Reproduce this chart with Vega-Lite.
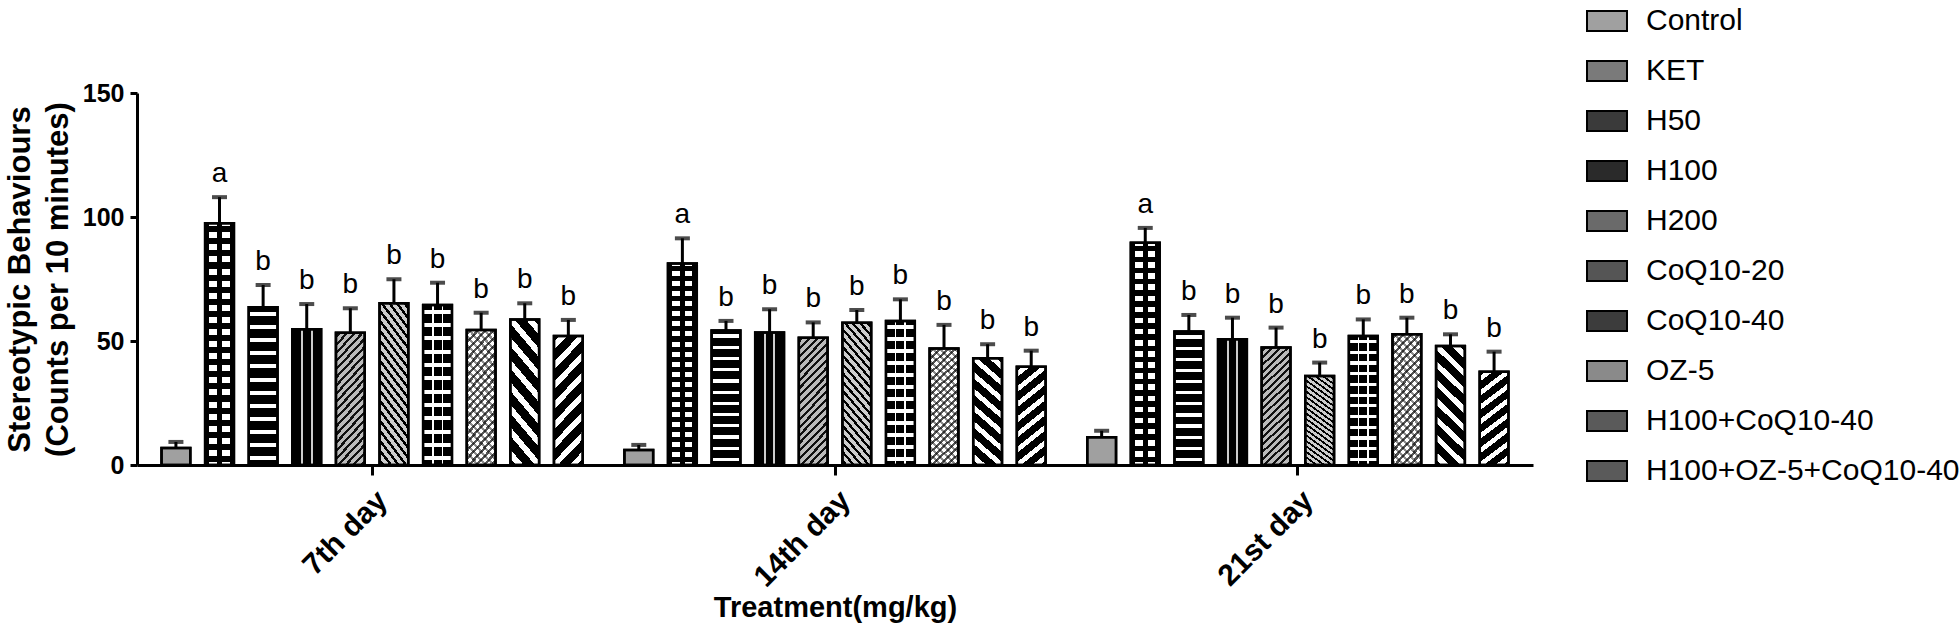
{
  "$schema": "https://vega.github.io/schema/vega-lite/v6.json",
  "width": 1396,
  "height": 372,
  "padding": {"left": 4, "top": 0, "right": 0, "bottom": 0},
  "autosize": {"type": "pad"},
  "config": {
    "font": "Liberation Sans",
    "view": {"stroke": null},
    "axis": {"domainColor": "#000", "domainWidth": 3, "tickColor": "#000", "tickWidth": 3, "labelColor": "#000", "titleColor": "#000", "grid": false}
  },
  "data": {
    "values": [
      {"day": "7th day", "treatment": "Control", "mean": 6.9, "upper": 9.3, "sig": ""},
      {"day": "7th day", "treatment": "KET", "mean": 97.5, "upper": 108, "sig": "a"},
      {"day": "7th day", "treatment": "H50", "mean": 63.6, "upper": 72.6, "sig": "b"},
      {"day": "7th day", "treatment": "H100", "mean": 54.7, "upper": 64.9, "sig": "b"},
      {"day": "7th day", "treatment": "H200", "mean": 53.3, "upper": 63.2, "sig": "b"},
      {"day": "7th day", "treatment": "CoQ10-20", "mean": 65.2, "upper": 74.9, "sig": "b"},
      {"day": "7th day", "treatment": "CoQ10-40", "mean": 64.5, "upper": 73.5, "sig": "b"},
      {"day": "7th day", "treatment": "OZ-5", "mean": 54.4, "upper": 61.4, "sig": "b"},
      {"day": "7th day", "treatment": "H100+CoQ10-40", "mean": 58.7, "upper": 65.2, "sig": "b"},
      {"day": "7th day", "treatment": "H100+OZ-5+CoQ10-40", "mean": 52.0, "upper": 58.5, "sig": "b"},
      {"day": "14th day", "treatment": "Control", "mean": 6.0, "upper": 8.1, "sig": ""},
      {"day": "14th day", "treatment": "KET", "mean": 81.3, "upper": 91.4, "sig": "a"},
      {"day": "14th day", "treatment": "H50", "mean": 54.2, "upper": 58.1, "sig": "b"},
      {"day": "14th day", "treatment": "H100", "mean": 53.4, "upper": 62.8, "sig": "b"},
      {"day": "14th day", "treatment": "H200", "mean": 51.3, "upper": 57.5, "sig": "b"},
      {"day": "14th day", "treatment": "CoQ10-20", "mean": 57.4, "upper": 62.5, "sig": "b"},
      {"day": "14th day", "treatment": "CoQ10-40", "mean": 58.1, "upper": 66.8, "sig": "b"},
      {"day": "14th day", "treatment": "OZ-5", "mean": 47.0, "upper": 56.5, "sig": "b"},
      {"day": "14th day", "treatment": "H100+CoQ10-40", "mean": 43.0, "upper": 48.7, "sig": "b"},
      {"day": "14th day", "treatment": "H100+OZ-5+CoQ10-40", "mean": 39.6, "upper": 46.1, "sig": "b"},
      {"day": "21st day", "treatment": "Control", "mean": 11.2, "upper": 13.8, "sig": ""},
      {"day": "21st day", "treatment": "KET", "mean": 89.6, "upper": 95.6, "sig": "a"},
      {"day": "21st day", "treatment": "H50", "mean": 53.8, "upper": 60.5, "sig": "b"},
      {"day": "21st day", "treatment": "H100", "mean": 50.7, "upper": 59.4, "sig": "b"},
      {"day": "21st day", "treatment": "H200", "mean": 47.4, "upper": 55.4, "sig": "b"},
      {"day": "21st day", "treatment": "CoQ10-20", "mean": 35.9, "upper": 41.3, "sig": "b"},
      {"day": "21st day", "treatment": "CoQ10-40", "mean": 52.0, "upper": 58.7, "sig": "b"},
      {"day": "21st day", "treatment": "OZ-5", "mean": 52.7, "upper": 59.4, "sig": "b"},
      {"day": "21st day", "treatment": "H100+CoQ10-40", "mean": 48.0, "upper": 52.7, "sig": "b"},
      {"day": "21st day", "treatment": "H100+OZ-5+CoQ10-40", "mean": 37.6, "upper": 45.7, "sig": "b"}
    ]
  },
  "encoding": {
    "x": {
      "field": "day", "type": "nominal", "sort": ["7th day", "14th day", "21st day"],
      "scale": {"paddingInner": 0.09, "paddingOuter": 0.053},
      "axis": {"title": "Treatment(mg/kg)", "labelAngle": -45, "labelFontSize": 30, "labelFontWeight": "bold", "tickSize": 10, "labelPadding": 10, "titleFontSize": 29, "titleFontWeight": "bold", "titlePadding": 1}
    },
    "xOffset": {
      "field": "treatment", "type": "nominal",
      "sort": ["Control", "KET", "H50", "H100", "H200", "CoQ10-20", "CoQ10-40", "OZ-5", "H100+CoQ10-40", "H100+OZ-5+CoQ10-40"],
      "scale": {"paddingInner": 0.34, "paddingOuter": 0}
    }
  },
  "layer": [
    {
      "mark": {"type": "bar", "stroke": "#000", "strokeWidth": 2.5},
      "encoding": {
        "y": {
          "field": "mean", "type": "quantitative",
          "scale": {"domain": [0, 150], "nice": false},
          "axis": {"values": [0, 50, 100, 150], "title": ["Stereotypic Behaviours", "(Counts per 10 minutes)"], "labelFontSize": 25, "labelFontWeight": "bold", "tickSize": 7, "labelPadding": 6, "titleFontSize": 31, "titleFontWeight": "bold", "titleLineHeight": 38, "titlePadding": 8}
        },
        "fill": {
          "field": "treatment", "type": "nominal",
          "scale": {
            "domain": ["Control", "KET", "H50", "H100", "H200", "CoQ10-20", "CoQ10-40", "OZ-5", "H100+CoQ10-40", "H100+OZ-5+CoQ10-40"],
            "range": ["#a0a0a0", "#7a7a7a", "#3a3a3a", "#2a2a2a", "#6a6a6a", "#555555", "#3c3c3c", "#8a8a8a", "#5a5a5a", "#5a5a5a"]
          },
          "legend": {
            "title": null, "orient": "none", "legendX": 1449, "legendY": -93,
            "symbolType": "M-1,-0.5H1V0.5H-1Z", "symbolSize": 1600, "symbolStrokeColor": "#000", "symbolStrokeWidth": 2,
            "labelFontSize": 30, "labelFont": "Liberation Sans", "labelColor": "#000", "labelOffset": 18, "rowPadding": 14, "labelLimit": 0
          },
          "condition": [
            {"test": "datum.treatment==='KET'", "value": {"gradient": "linear", "x1": 0, "y1": 0, "x2": 1, "y2": 0, "stops": [{"offset": 0.15, "color": "#000"}, {"offset": 0.15, "color": "#fff"}, {"offset": 0.42, "color": "#fff"}, {"offset": 0.42, "color": "#000"}, {"offset": 0.58, "color": "#000"}, {"offset": 0.58, "color": "#fff"}, {"offset": 0.85, "color": "#fff"}, {"offset": 0.85, "color": "#000"}]}},
            {"test": "datum.treatment==='H50'", "value": {"gradient": "linear", "x1": 0, "y1": 0, "x2": 0, "y2": 1, "stops": [{"offset": 0.029, "color": "#000"}, {"offset": 0.029, "color": "#fff"}, {"offset": 0.054, "color": "#fff"}, {"offset": 0.054, "color": "#000"}, {"offset": 0.1125, "color": "#000"}, {"offset": 0.1125, "color": "#fff"}, {"offset": 0.1375, "color": "#fff"}, {"offset": 0.1375, "color": "#000"}, {"offset": 0.196, "color": "#000"}, {"offset": 0.196, "color": "#fff"}, {"offset": 0.221, "color": "#fff"}, {"offset": 0.221, "color": "#000"}, {"offset": 0.279, "color": "#000"}, {"offset": 0.279, "color": "#fff"}, {"offset": 0.304, "color": "#fff"}, {"offset": 0.304, "color": "#000"}, {"offset": 0.3625, "color": "#000"}, {"offset": 0.3625, "color": "#fff"}, {"offset": 0.3875, "color": "#fff"}, {"offset": 0.3875, "color": "#000"}, {"offset": 0.446, "color": "#000"}, {"offset": 0.446, "color": "#fff"}, {"offset": 0.471, "color": "#fff"}, {"offset": 0.471, "color": "#000"}, {"offset": 0.529, "color": "#000"}, {"offset": 0.529, "color": "#fff"}, {"offset": 0.554, "color": "#fff"}, {"offset": 0.554, "color": "#000"}, {"offset": 0.6125, "color": "#000"}, {"offset": 0.6125, "color": "#fff"}, {"offset": 0.6375, "color": "#fff"}, {"offset": 0.6375, "color": "#000"}, {"offset": 0.696, "color": "#000"}, {"offset": 0.696, "color": "#fff"}, {"offset": 0.721, "color": "#fff"}, {"offset": 0.721, "color": "#000"}, {"offset": 0.779, "color": "#000"}, {"offset": 0.779, "color": "#fff"}, {"offset": 0.804, "color": "#fff"}, {"offset": 0.804, "color": "#000"}, {"offset": 0.8625, "color": "#000"}, {"offset": 0.8625, "color": "#fff"}, {"offset": 0.8875, "color": "#fff"}, {"offset": 0.8875, "color": "#000"}, {"offset": 0.946, "color": "#000"}, {"offset": 0.946, "color": "#fff"}, {"offset": 0.971, "color": "#fff"}, {"offset": 0.971, "color": "#000"}]}},
            {"test": "datum.treatment==='H100'", "value": {"gradient": "linear", "x1": 0, "y1": 0, "x2": 1, "y2": 0, "stops": [{"offset": 0.295, "color": "#000"}, {"offset": 0.295, "color": "#ccc"}, {"offset": 0.365, "color": "#ccc"}, {"offset": 0.365, "color": "#000"}, {"offset": 0.635, "color": "#000"}, {"offset": 0.635, "color": "#ccc"}, {"offset": 0.705, "color": "#ccc"}, {"offset": 0.705, "color": "#000"}]}},
            {"test": "datum.treatment==='H200'", "value": {"gradient": "linear", "x1": 0, "y1": 0, "x2": 0.274, "y2": 1.17, "stops": [{"offset": 0.015, "color": "#bbb"}, {"offset": 0.015, "color": "#111"}, {"offset": 0.035, "color": "#111"}, {"offset": 0.035, "color": "#bbb"}, {"offset": 0.065, "color": "#bbb"}, {"offset": 0.065, "color": "#111"}, {"offset": 0.085, "color": "#111"}, {"offset": 0.085, "color": "#bbb"}, {"offset": 0.115, "color": "#bbb"}, {"offset": 0.115, "color": "#111"}, {"offset": 0.135, "color": "#111"}, {"offset": 0.135, "color": "#bbb"}, {"offset": 0.165, "color": "#bbb"}, {"offset": 0.165, "color": "#111"}, {"offset": 0.185, "color": "#111"}, {"offset": 0.185, "color": "#bbb"}, {"offset": 0.215, "color": "#bbb"}, {"offset": 0.215, "color": "#111"}, {"offset": 0.235, "color": "#111"}, {"offset": 0.235, "color": "#bbb"}, {"offset": 0.265, "color": "#bbb"}, {"offset": 0.265, "color": "#111"}, {"offset": 0.285, "color": "#111"}, {"offset": 0.285, "color": "#bbb"}, {"offset": 0.315, "color": "#bbb"}, {"offset": 0.315, "color": "#111"}, {"offset": 0.335, "color": "#111"}, {"offset": 0.335, "color": "#bbb"}, {"offset": 0.365, "color": "#bbb"}, {"offset": 0.365, "color": "#111"}, {"offset": 0.385, "color": "#111"}, {"offset": 0.385, "color": "#bbb"}, {"offset": 0.415, "color": "#bbb"}, {"offset": 0.415, "color": "#111"}, {"offset": 0.435, "color": "#111"}, {"offset": 0.435, "color": "#bbb"}, {"offset": 0.465, "color": "#bbb"}, {"offset": 0.465, "color": "#111"}, {"offset": 0.485, "color": "#111"}, {"offset": 0.485, "color": "#bbb"}, {"offset": 0.515, "color": "#bbb"}, {"offset": 0.515, "color": "#111"}, {"offset": 0.535, "color": "#111"}, {"offset": 0.535, "color": "#bbb"}, {"offset": 0.565, "color": "#bbb"}, {"offset": 0.565, "color": "#111"}, {"offset": 0.585, "color": "#111"}, {"offset": 0.585, "color": "#bbb"}, {"offset": 0.615, "color": "#bbb"}, {"offset": 0.615, "color": "#111"}, {"offset": 0.635, "color": "#111"}, {"offset": 0.635, "color": "#bbb"}, {"offset": 0.665, "color": "#bbb"}, {"offset": 0.665, "color": "#111"}, {"offset": 0.685, "color": "#111"}, {"offset": 0.685, "color": "#bbb"}, {"offset": 0.715, "color": "#bbb"}, {"offset": 0.715, "color": "#111"}, {"offset": 0.735, "color": "#111"}, {"offset": 0.735, "color": "#bbb"}, {"offset": 0.765, "color": "#bbb"}, {"offset": 0.765, "color": "#111"}, {"offset": 0.785, "color": "#111"}, {"offset": 0.785, "color": "#bbb"}, {"offset": 0.815, "color": "#bbb"}, {"offset": 0.815, "color": "#111"}, {"offset": 0.835, "color": "#111"}, {"offset": 0.835, "color": "#bbb"}, {"offset": 0.865, "color": "#bbb"}, {"offset": 0.865, "color": "#111"}, {"offset": 0.885, "color": "#111"}, {"offset": 0.885, "color": "#bbb"}, {"offset": 0.915, "color": "#bbb"}, {"offset": 0.915, "color": "#111"}, {"offset": 0.935, "color": "#111"}, {"offset": 0.935, "color": "#bbb"}, {"offset": 0.965, "color": "#bbb"}, {"offset": 0.965, "color": "#111"}, {"offset": 0.985, "color": "#111"}, {"offset": 0.985, "color": "#bbb"}]}},
            {"test": "datum.treatment==='CoQ10-20'", "value": {"gradient": "linear", "x1": 1, "y1": 0, "x2": 0.726, "y2": 1.17, "stops": [{"offset": 0.015, "color": "#ccc"}, {"offset": 0.015, "color": "#000"}, {"offset": 0.035, "color": "#000"}, {"offset": 0.035, "color": "#ccc"}, {"offset": 0.065, "color": "#ccc"}, {"offset": 0.065, "color": "#000"}, {"offset": 0.085, "color": "#000"}, {"offset": 0.085, "color": "#ccc"}, {"offset": 0.115, "color": "#ccc"}, {"offset": 0.115, "color": "#000"}, {"offset": 0.135, "color": "#000"}, {"offset": 0.135, "color": "#ccc"}, {"offset": 0.165, "color": "#ccc"}, {"offset": 0.165, "color": "#000"}, {"offset": 0.185, "color": "#000"}, {"offset": 0.185, "color": "#ccc"}, {"offset": 0.215, "color": "#ccc"}, {"offset": 0.215, "color": "#000"}, {"offset": 0.235, "color": "#000"}, {"offset": 0.235, "color": "#ccc"}, {"offset": 0.265, "color": "#ccc"}, {"offset": 0.265, "color": "#000"}, {"offset": 0.285, "color": "#000"}, {"offset": 0.285, "color": "#ccc"}, {"offset": 0.315, "color": "#ccc"}, {"offset": 0.315, "color": "#000"}, {"offset": 0.335, "color": "#000"}, {"offset": 0.335, "color": "#ccc"}, {"offset": 0.365, "color": "#ccc"}, {"offset": 0.365, "color": "#000"}, {"offset": 0.385, "color": "#000"}, {"offset": 0.385, "color": "#ccc"}, {"offset": 0.415, "color": "#ccc"}, {"offset": 0.415, "color": "#000"}, {"offset": 0.435, "color": "#000"}, {"offset": 0.435, "color": "#ccc"}, {"offset": 0.465, "color": "#ccc"}, {"offset": 0.465, "color": "#000"}, {"offset": 0.485, "color": "#000"}, {"offset": 0.485, "color": "#ccc"}, {"offset": 0.515, "color": "#ccc"}, {"offset": 0.515, "color": "#000"}, {"offset": 0.535, "color": "#000"}, {"offset": 0.535, "color": "#ccc"}, {"offset": 0.565, "color": "#ccc"}, {"offset": 0.565, "color": "#000"}, {"offset": 0.585, "color": "#000"}, {"offset": 0.585, "color": "#ccc"}, {"offset": 0.615, "color": "#ccc"}, {"offset": 0.615, "color": "#000"}, {"offset": 0.635, "color": "#000"}, {"offset": 0.635, "color": "#ccc"}, {"offset": 0.665, "color": "#ccc"}, {"offset": 0.665, "color": "#000"}, {"offset": 0.685, "color": "#000"}, {"offset": 0.685, "color": "#ccc"}, {"offset": 0.715, "color": "#ccc"}, {"offset": 0.715, "color": "#000"}, {"offset": 0.735, "color": "#000"}, {"offset": 0.735, "color": "#ccc"}, {"offset": 0.765, "color": "#ccc"}, {"offset": 0.765, "color": "#000"}, {"offset": 0.785, "color": "#000"}, {"offset": 0.785, "color": "#ccc"}, {"offset": 0.815, "color": "#ccc"}, {"offset": 0.815, "color": "#000"}, {"offset": 0.835, "color": "#000"}, {"offset": 0.835, "color": "#ccc"}, {"offset": 0.865, "color": "#ccc"}, {"offset": 0.865, "color": "#000"}, {"offset": 0.885, "color": "#000"}, {"offset": 0.885, "color": "#ccc"}, {"offset": 0.915, "color": "#ccc"}, {"offset": 0.915, "color": "#000"}, {"offset": 0.935, "color": "#000"}, {"offset": 0.935, "color": "#ccc"}, {"offset": 0.965, "color": "#ccc"}, {"offset": 0.965, "color": "#000"}, {"offset": 0.985, "color": "#000"}, {"offset": 0.985, "color": "#ccc"}]}},
            {"test": "datum.treatment==='CoQ10-40'", "value": {"gradient": "linear", "x1": 0, "y1": 0, "x2": 1, "y2": 0, "stops": [{"offset": 0.3, "color": "#000"}, {"offset": 0.3, "color": "#fff"}, {"offset": 0.36, "color": "#fff"}, {"offset": 0.36, "color": "#000"}, {"offset": 0.64, "color": "#000"}, {"offset": 0.64, "color": "#fff"}, {"offset": 0.7, "color": "#fff"}, {"offset": 0.7, "color": "#000"}]}},
            {"test": "datum.treatment==='OZ-5'", "value": {"gradient": "linear", "x1": 0, "y1": 0, "x2": 0.274, "y2": 1.17, "stops": [{"offset": 0.015, "color": "#fff"}, {"offset": 0.015, "color": "#555"}, {"offset": 0.035, "color": "#555"}, {"offset": 0.035, "color": "#fff"}, {"offset": 0.065, "color": "#fff"}, {"offset": 0.065, "color": "#555"}, {"offset": 0.085, "color": "#555"}, {"offset": 0.085, "color": "#fff"}, {"offset": 0.115, "color": "#fff"}, {"offset": 0.115, "color": "#555"}, {"offset": 0.135, "color": "#555"}, {"offset": 0.135, "color": "#fff"}, {"offset": 0.165, "color": "#fff"}, {"offset": 0.165, "color": "#555"}, {"offset": 0.185, "color": "#555"}, {"offset": 0.185, "color": "#fff"}, {"offset": 0.215, "color": "#fff"}, {"offset": 0.215, "color": "#555"}, {"offset": 0.235, "color": "#555"}, {"offset": 0.235, "color": "#fff"}, {"offset": 0.265, "color": "#fff"}, {"offset": 0.265, "color": "#555"}, {"offset": 0.285, "color": "#555"}, {"offset": 0.285, "color": "#fff"}, {"offset": 0.315, "color": "#fff"}, {"offset": 0.315, "color": "#555"}, {"offset": 0.335, "color": "#555"}, {"offset": 0.335, "color": "#fff"}, {"offset": 0.365, "color": "#fff"}, {"offset": 0.365, "color": "#555"}, {"offset": 0.385, "color": "#555"}, {"offset": 0.385, "color": "#fff"}, {"offset": 0.415, "color": "#fff"}, {"offset": 0.415, "color": "#555"}, {"offset": 0.435, "color": "#555"}, {"offset": 0.435, "color": "#fff"}, {"offset": 0.465, "color": "#fff"}, {"offset": 0.465, "color": "#555"}, {"offset": 0.485, "color": "#555"}, {"offset": 0.485, "color": "#fff"}, {"offset": 0.515, "color": "#fff"}, {"offset": 0.515, "color": "#555"}, {"offset": 0.535, "color": "#555"}, {"offset": 0.535, "color": "#fff"}, {"offset": 0.565, "color": "#fff"}, {"offset": 0.565, "color": "#555"}, {"offset": 0.585, "color": "#555"}, {"offset": 0.585, "color": "#fff"}, {"offset": 0.615, "color": "#fff"}, {"offset": 0.615, "color": "#555"}, {"offset": 0.635, "color": "#555"}, {"offset": 0.635, "color": "#fff"}, {"offset": 0.665, "color": "#fff"}, {"offset": 0.665, "color": "#555"}, {"offset": 0.685, "color": "#555"}, {"offset": 0.685, "color": "#fff"}, {"offset": 0.715, "color": "#fff"}, {"offset": 0.715, "color": "#555"}, {"offset": 0.735, "color": "#555"}, {"offset": 0.735, "color": "#fff"}, {"offset": 0.765, "color": "#fff"}, {"offset": 0.765, "color": "#555"}, {"offset": 0.785, "color": "#555"}, {"offset": 0.785, "color": "#fff"}, {"offset": 0.815, "color": "#fff"}, {"offset": 0.815, "color": "#555"}, {"offset": 0.835, "color": "#555"}, {"offset": 0.835, "color": "#fff"}, {"offset": 0.865, "color": "#fff"}, {"offset": 0.865, "color": "#555"}, {"offset": 0.885, "color": "#555"}, {"offset": 0.885, "color": "#fff"}, {"offset": 0.915, "color": "#fff"}, {"offset": 0.915, "color": "#555"}, {"offset": 0.935, "color": "#555"}, {"offset": 0.935, "color": "#fff"}, {"offset": 0.965, "color": "#fff"}, {"offset": 0.965, "color": "#555"}, {"offset": 0.985, "color": "#555"}, {"offset": 0.985, "color": "#fff"}]}},
            {"test": "datum.treatment==='H100+CoQ10-40'", "value": {"gradient": "linear", "x1": 1, "y1": 0, "x2": 0.726, "y2": 1.17, "stops": [{"offset": 0.0375, "color": "#000"}, {"offset": 0.0375, "color": "#fff"}, {"offset": 0.0875, "color": "#fff"}, {"offset": 0.0875, "color": "#000"}, {"offset": 0.1625, "color": "#000"}, {"offset": 0.1625, "color": "#fff"}, {"offset": 0.2125, "color": "#fff"}, {"offset": 0.2125, "color": "#000"}, {"offset": 0.2875, "color": "#000"}, {"offset": 0.2875, "color": "#fff"}, {"offset": 0.3375, "color": "#fff"}, {"offset": 0.3375, "color": "#000"}, {"offset": 0.4125, "color": "#000"}, {"offset": 0.4125, "color": "#fff"}, {"offset": 0.4625, "color": "#fff"}, {"offset": 0.4625, "color": "#000"}, {"offset": 0.5375, "color": "#000"}, {"offset": 0.5375, "color": "#fff"}, {"offset": 0.5875, "color": "#fff"}, {"offset": 0.5875, "color": "#000"}, {"offset": 0.6625, "color": "#000"}, {"offset": 0.6625, "color": "#fff"}, {"offset": 0.7125, "color": "#fff"}, {"offset": 0.7125, "color": "#000"}, {"offset": 0.7875, "color": "#000"}, {"offset": 0.7875, "color": "#fff"}, {"offset": 0.8375, "color": "#fff"}, {"offset": 0.8375, "color": "#000"}, {"offset": 0.9125, "color": "#000"}, {"offset": 0.9125, "color": "#fff"}, {"offset": 0.9625, "color": "#fff"}, {"offset": 0.9625, "color": "#000"}]}},
            {"test": "datum.treatment==='H100+OZ-5+CoQ10-40'", "value": {"gradient": "linear", "x1": 0, "y1": 0, "x2": 0.274, "y2": 1.17, "stops": [{"offset": 0.0375, "color": "#000"}, {"offset": 0.0375, "color": "#fff"}, {"offset": 0.0875, "color": "#fff"}, {"offset": 0.0875, "color": "#000"}, {"offset": 0.1625, "color": "#000"}, {"offset": 0.1625, "color": "#fff"}, {"offset": 0.2125, "color": "#fff"}, {"offset": 0.2125, "color": "#000"}, {"offset": 0.2875, "color": "#000"}, {"offset": 0.2875, "color": "#fff"}, {"offset": 0.3375, "color": "#fff"}, {"offset": 0.3375, "color": "#000"}, {"offset": 0.4125, "color": "#000"}, {"offset": 0.4125, "color": "#fff"}, {"offset": 0.4625, "color": "#fff"}, {"offset": 0.4625, "color": "#000"}, {"offset": 0.5375, "color": "#000"}, {"offset": 0.5375, "color": "#fff"}, {"offset": 0.5875, "color": "#fff"}, {"offset": 0.5875, "color": "#000"}, {"offset": 0.6625, "color": "#000"}, {"offset": 0.6625, "color": "#fff"}, {"offset": 0.7125, "color": "#fff"}, {"offset": 0.7125, "color": "#000"}, {"offset": 0.7875, "color": "#000"}, {"offset": 0.7875, "color": "#fff"}, {"offset": 0.8375, "color": "#fff"}, {"offset": 0.8375, "color": "#000"}, {"offset": 0.9125, "color": "#000"}, {"offset": 0.9125, "color": "#fff"}, {"offset": 0.9625, "color": "#fff"}, {"offset": 0.9625, "color": "#000"}]}}
          ]
        }
      }
    },
    {
      "mark": {"type": "bar", "stroke": "#000", "strokeWidth": 2.5},
      "encoding": {
        "y": {"field": "mean", "type": "quantitative"},
        "fill": {
          "condition": [
            {"test": "datum.treatment==='KET'", "value": {"gradient": "linear", "x1": 0, "y1": 0, "x2": 0, "y2": 1, "stops": [{"offset": 0.0125, "color": "rgba(0,0,0,0)"}, {"offset": 0.0125, "color": "#000"}, {"offset": 0.0375, "color": "#000"}, {"offset": 0.0375, "color": "rgba(0,0,0,0)"}, {"offset": 0.0625, "color": "rgba(0,0,0,0)"}, {"offset": 0.0625, "color": "#000"}, {"offset": 0.0875, "color": "#000"}, {"offset": 0.0875, "color": "rgba(0,0,0,0)"}, {"offset": 0.1125, "color": "rgba(0,0,0,0)"}, {"offset": 0.1125, "color": "#000"}, {"offset": 0.1375, "color": "#000"}, {"offset": 0.1375, "color": "rgba(0,0,0,0)"}, {"offset": 0.1625, "color": "rgba(0,0,0,0)"}, {"offset": 0.1625, "color": "#000"}, {"offset": 0.1875, "color": "#000"}, {"offset": 0.1875, "color": "rgba(0,0,0,0)"}, {"offset": 0.2125, "color": "rgba(0,0,0,0)"}, {"offset": 0.2125, "color": "#000"}, {"offset": 0.2375, "color": "#000"}, {"offset": 0.2375, "color": "rgba(0,0,0,0)"}, {"offset": 0.2625, "color": "rgba(0,0,0,0)"}, {"offset": 0.2625, "color": "#000"}, {"offset": 0.2875, "color": "#000"}, {"offset": 0.2875, "color": "rgba(0,0,0,0)"}, {"offset": 0.3125, "color": "rgba(0,0,0,0)"}, {"offset": 0.3125, "color": "#000"}, {"offset": 0.3375, "color": "#000"}, {"offset": 0.3375, "color": "rgba(0,0,0,0)"}, {"offset": 0.3625, "color": "rgba(0,0,0,0)"}, {"offset": 0.3625, "color": "#000"}, {"offset": 0.3875, "color": "#000"}, {"offset": 0.3875, "color": "rgba(0,0,0,0)"}, {"offset": 0.4125, "color": "rgba(0,0,0,0)"}, {"offset": 0.4125, "color": "#000"}, {"offset": 0.4375, "color": "#000"}, {"offset": 0.4375, "color": "rgba(0,0,0,0)"}, {"offset": 0.4625, "color": "rgba(0,0,0,0)"}, {"offset": 0.4625, "color": "#000"}, {"offset": 0.4875, "color": "#000"}, {"offset": 0.4875, "color": "rgba(0,0,0,0)"}, {"offset": 0.5125, "color": "rgba(0,0,0,0)"}, {"offset": 0.5125, "color": "#000"}, {"offset": 0.5375, "color": "#000"}, {"offset": 0.5375, "color": "rgba(0,0,0,0)"}, {"offset": 0.5625, "color": "rgba(0,0,0,0)"}, {"offset": 0.5625, "color": "#000"}, {"offset": 0.5875, "color": "#000"}, {"offset": 0.5875, "color": "rgba(0,0,0,0)"}, {"offset": 0.6125, "color": "rgba(0,0,0,0)"}, {"offset": 0.6125, "color": "#000"}, {"offset": 0.6375, "color": "#000"}, {"offset": 0.6375, "color": "rgba(0,0,0,0)"}, {"offset": 0.6625, "color": "rgba(0,0,0,0)"}, {"offset": 0.6625, "color": "#000"}, {"offset": 0.6875, "color": "#000"}, {"offset": 0.6875, "color": "rgba(0,0,0,0)"}, {"offset": 0.7125, "color": "rgba(0,0,0,0)"}, {"offset": 0.7125, "color": "#000"}, {"offset": 0.7375, "color": "#000"}, {"offset": 0.7375, "color": "rgba(0,0,0,0)"}, {"offset": 0.7625, "color": "rgba(0,0,0,0)"}, {"offset": 0.7625, "color": "#000"}, {"offset": 0.7875, "color": "#000"}, {"offset": 0.7875, "color": "rgba(0,0,0,0)"}, {"offset": 0.8125, "color": "rgba(0,0,0,0)"}, {"offset": 0.8125, "color": "#000"}, {"offset": 0.8375, "color": "#000"}, {"offset": 0.8375, "color": "rgba(0,0,0,0)"}, {"offset": 0.8625, "color": "rgba(0,0,0,0)"}, {"offset": 0.8625, "color": "#000"}, {"offset": 0.8875, "color": "#000"}, {"offset": 0.8875, "color": "rgba(0,0,0,0)"}, {"offset": 0.9125, "color": "rgba(0,0,0,0)"}, {"offset": 0.9125, "color": "#000"}, {"offset": 0.9375, "color": "#000"}, {"offset": 0.9375, "color": "rgba(0,0,0,0)"}, {"offset": 0.9625, "color": "rgba(0,0,0,0)"}, {"offset": 0.9625, "color": "#000"}, {"offset": 0.9875, "color": "#000"}, {"offset": 0.9875, "color": "rgba(0,0,0,0)"}]}},
            {"test": "datum.treatment==='CoQ10-40'", "value": {"gradient": "linear", "x1": 0, "y1": 0, "x2": 0, "y2": 1, "stops": [{"offset": 0.029, "color": "rgba(0,0,0,0)"}, {"offset": 0.029, "color": "#fff"}, {"offset": 0.054, "color": "#fff"}, {"offset": 0.054, "color": "rgba(0,0,0,0)"}, {"offset": 0.1125, "color": "rgba(0,0,0,0)"}, {"offset": 0.1125, "color": "#fff"}, {"offset": 0.1375, "color": "#fff"}, {"offset": 0.1375, "color": "rgba(0,0,0,0)"}, {"offset": 0.196, "color": "rgba(0,0,0,0)"}, {"offset": 0.196, "color": "#fff"}, {"offset": 0.221, "color": "#fff"}, {"offset": 0.221, "color": "rgba(0,0,0,0)"}, {"offset": 0.279, "color": "rgba(0,0,0,0)"}, {"offset": 0.279, "color": "#fff"}, {"offset": 0.304, "color": "#fff"}, {"offset": 0.304, "color": "rgba(0,0,0,0)"}, {"offset": 0.3625, "color": "rgba(0,0,0,0)"}, {"offset": 0.3625, "color": "#fff"}, {"offset": 0.3875, "color": "#fff"}, {"offset": 0.3875, "color": "rgba(0,0,0,0)"}, {"offset": 0.446, "color": "rgba(0,0,0,0)"}, {"offset": 0.446, "color": "#fff"}, {"offset": 0.471, "color": "#fff"}, {"offset": 0.471, "color": "rgba(0,0,0,0)"}, {"offset": 0.529, "color": "rgba(0,0,0,0)"}, {"offset": 0.529, "color": "#fff"}, {"offset": 0.554, "color": "#fff"}, {"offset": 0.554, "color": "rgba(0,0,0,0)"}, {"offset": 0.6125, "color": "rgba(0,0,0,0)"}, {"offset": 0.6125, "color": "#fff"}, {"offset": 0.6375, "color": "#fff"}, {"offset": 0.6375, "color": "rgba(0,0,0,0)"}, {"offset": 0.696, "color": "rgba(0,0,0,0)"}, {"offset": 0.696, "color": "#fff"}, {"offset": 0.721, "color": "#fff"}, {"offset": 0.721, "color": "rgba(0,0,0,0)"}, {"offset": 0.779, "color": "rgba(0,0,0,0)"}, {"offset": 0.779, "color": "#fff"}, {"offset": 0.804, "color": "#fff"}, {"offset": 0.804, "color": "rgba(0,0,0,0)"}, {"offset": 0.8625, "color": "rgba(0,0,0,0)"}, {"offset": 0.8625, "color": "#fff"}, {"offset": 0.8875, "color": "#fff"}, {"offset": 0.8875, "color": "rgba(0,0,0,0)"}, {"offset": 0.946, "color": "rgba(0,0,0,0)"}, {"offset": 0.946, "color": "#fff"}, {"offset": 0.971, "color": "#fff"}, {"offset": 0.971, "color": "rgba(0,0,0,0)"}]}},
            {"test": "datum.treatment==='OZ-5'", "value": {"gradient": "linear", "x1": 1, "y1": 0, "x2": 0.726, "y2": 1.17, "stops": [{"offset": 0.015, "color": "rgba(0,0,0,0)"}, {"offset": 0.015, "color": "rgba(0,0,0,0.45)"}, {"offset": 0.035, "color": "rgba(0,0,0,0.45)"}, {"offset": 0.035, "color": "rgba(0,0,0,0)"}, {"offset": 0.065, "color": "rgba(0,0,0,0)"}, {"offset": 0.065, "color": "rgba(0,0,0,0.45)"}, {"offset": 0.085, "color": "rgba(0,0,0,0.45)"}, {"offset": 0.085, "color": "rgba(0,0,0,0)"}, {"offset": 0.115, "color": "rgba(0,0,0,0)"}, {"offset": 0.115, "color": "rgba(0,0,0,0.45)"}, {"offset": 0.135, "color": "rgba(0,0,0,0.45)"}, {"offset": 0.135, "color": "rgba(0,0,0,0)"}, {"offset": 0.165, "color": "rgba(0,0,0,0)"}, {"offset": 0.165, "color": "rgba(0,0,0,0.45)"}, {"offset": 0.185, "color": "rgba(0,0,0,0.45)"}, {"offset": 0.185, "color": "rgba(0,0,0,0)"}, {"offset": 0.215, "color": "rgba(0,0,0,0)"}, {"offset": 0.215, "color": "rgba(0,0,0,0.45)"}, {"offset": 0.235, "color": "rgba(0,0,0,0.45)"}, {"offset": 0.235, "color": "rgba(0,0,0,0)"}, {"offset": 0.265, "color": "rgba(0,0,0,0)"}, {"offset": 0.265, "color": "rgba(0,0,0,0.45)"}, {"offset": 0.285, "color": "rgba(0,0,0,0.45)"}, {"offset": 0.285, "color": "rgba(0,0,0,0)"}, {"offset": 0.315, "color": "rgba(0,0,0,0)"}, {"offset": 0.315, "color": "rgba(0,0,0,0.45)"}, {"offset": 0.335, "color": "rgba(0,0,0,0.45)"}, {"offset": 0.335, "color": "rgba(0,0,0,0)"}, {"offset": 0.365, "color": "rgba(0,0,0,0)"}, {"offset": 0.365, "color": "rgba(0,0,0,0.45)"}, {"offset": 0.385, "color": "rgba(0,0,0,0.45)"}, {"offset": 0.385, "color": "rgba(0,0,0,0)"}, {"offset": 0.415, "color": "rgba(0,0,0,0)"}, {"offset": 0.415, "color": "rgba(0,0,0,0.45)"}, {"offset": 0.435, "color": "rgba(0,0,0,0.45)"}, {"offset": 0.435, "color": "rgba(0,0,0,0)"}, {"offset": 0.465, "color": "rgba(0,0,0,0)"}, {"offset": 0.465, "color": "rgba(0,0,0,0.45)"}, {"offset": 0.485, "color": "rgba(0,0,0,0.45)"}, {"offset": 0.485, "color": "rgba(0,0,0,0)"}, {"offset": 0.515, "color": "rgba(0,0,0,0)"}, {"offset": 0.515, "color": "rgba(0,0,0,0.45)"}, {"offset": 0.535, "color": "rgba(0,0,0,0.45)"}, {"offset": 0.535, "color": "rgba(0,0,0,0)"}, {"offset": 0.565, "color": "rgba(0,0,0,0)"}, {"offset": 0.565, "color": "rgba(0,0,0,0.45)"}, {"offset": 0.585, "color": "rgba(0,0,0,0.45)"}, {"offset": 0.585, "color": "rgba(0,0,0,0)"}, {"offset": 0.615, "color": "rgba(0,0,0,0)"}, {"offset": 0.615, "color": "rgba(0,0,0,0.45)"}, {"offset": 0.635, "color": "rgba(0,0,0,0.45)"}, {"offset": 0.635, "color": "rgba(0,0,0,0)"}, {"offset": 0.665, "color": "rgba(0,0,0,0)"}, {"offset": 0.665, "color": "rgba(0,0,0,0.45)"}, {"offset": 0.685, "color": "rgba(0,0,0,0.45)"}, {"offset": 0.685, "color": "rgba(0,0,0,0)"}, {"offset": 0.715, "color": "rgba(0,0,0,0)"}, {"offset": 0.715, "color": "rgba(0,0,0,0.45)"}, {"offset": 0.735, "color": "rgba(0,0,0,0.45)"}, {"offset": 0.735, "color": "rgba(0,0,0,0)"}, {"offset": 0.765, "color": "rgba(0,0,0,0)"}, {"offset": 0.765, "color": "rgba(0,0,0,0.45)"}, {"offset": 0.785, "color": "rgba(0,0,0,0.45)"}, {"offset": 0.785, "color": "rgba(0,0,0,0)"}, {"offset": 0.815, "color": "rgba(0,0,0,0)"}, {"offset": 0.815, "color": "rgba(0,0,0,0.45)"}, {"offset": 0.835, "color": "rgba(0,0,0,0.45)"}, {"offset": 0.835, "color": "rgba(0,0,0,0)"}, {"offset": 0.865, "color": "rgba(0,0,0,0)"}, {"offset": 0.865, "color": "rgba(0,0,0,0.45)"}, {"offset": 0.885, "color": "rgba(0,0,0,0.45)"}, {"offset": 0.885, "color": "rgba(0,0,0,0)"}, {"offset": 0.915, "color": "rgba(0,0,0,0)"}, {"offset": 0.915, "color": "rgba(0,0,0,0.45)"}, {"offset": 0.935, "color": "rgba(0,0,0,0.45)"}, {"offset": 0.935, "color": "rgba(0,0,0,0)"}, {"offset": 0.965, "color": "rgba(0,0,0,0)"}, {"offset": 0.965, "color": "rgba(0,0,0,0.45)"}, {"offset": 0.985, "color": "rgba(0,0,0,0.45)"}, {"offset": 0.985, "color": "rgba(0,0,0,0)"}]}}
          ],
          "value": "rgba(0,0,0,0)"
        }
      }
    },
    {
      "mark": {"type": "rule", "color": "#000", "strokeWidth": 3},
      "encoding": {
        "y": {"field": "mean", "type": "quantitative"},
        "y2": {"field": "upper"}
      }
    },
    {
      "mark": {"type": "tick", "color": "#000", "thickness": 4, "size": 15},
      "encoding": {
        "y": {"field": "upper", "type": "quantitative"}
      }
    },
    {
      "mark": {"type": "text", "baseline": "bottom", "dy": -9, "fontSize": 28, "font": "Liberation Sans", "color": "#000"},
      "encoding": {
        "y": {"field": "upper", "type": "quantitative"},
        "text": {"field": "sig"}
      }
    }
  ]
}
